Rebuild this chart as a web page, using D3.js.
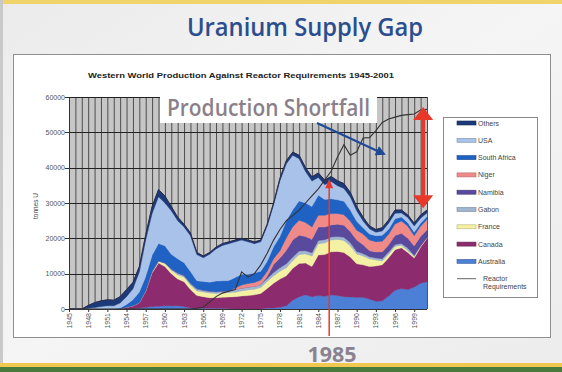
<!DOCTYPE html>
<html><head><meta charset="utf-8">
<script src="https://cdn.jsdelivr.net/npm/d3@7"></script>
<style>html,body{margin:0;padding:0;background:#efefef;}svg{display:block;}</style>
</head><body><svg id="c" width="562" height="372"></svg>
<script>
const years = [1945,1946,1947,1948,1949,1950,1951,1952,1953,1954,1955,1956,1957,1958,1959,1960,1961,1962,1963,1964,1965,1966,1967,1968,1969,1970,1971,1972,1973,1974,1975,1976,1977,1978,1979,1980,1981,1982,1983,1984,1985,1986,1987,1988,1989,1990,1991,1992,1993,1994,1995,1996,1997,1998,1999,2000,2001];
const australia = [0,0,0,0,0,0,0,0,0,0,100,300,500,700,800,900,900,900,700,300,200,200,200,200,200,100,0,0,0,0,0,300,300,500,900,2500,3500,4000,3500,3800,3600,4000,3800,3500,3400,3300,3300,2800,2200,2300,3700,5300,5800,5500,6200,7300,7700];
const canada = [0,0,0,0,0,0,0,0,100,500,800,1400,4500,9500,12200,11100,9100,7600,7000,5200,3600,3300,3000,3000,3100,3300,3500,3700,3800,4000,4400,5500,7000,8000,8500,9000,9400,9000,8500,11500,11800,12200,12500,12500,11300,9500,9200,9200,10000,10200,10800,11500,11500,10500,8200,10200,12300];
const france = [0,0,0,0,0,0,0,0,0,0,0,100,200,400,600,1000,1000,1200,1300,1300,1300,1300,1300,1200,1200,1250,1250,1400,1600,1600,1700,2000,2100,2200,2300,2200,2500,2600,3000,3200,3300,3300,3400,3400,3200,2800,2500,2200,1700,1100,1000,900,750,500,450,300,200];
const gabon = [0,0,0,0,0,0,0,0,0,0,0,0,0,0,0,0,300,500,500,500,600,500,500,500,500,400,800,800,800,800,800,800,900,1000,1100,1000,1000,900,900,900,900,900,800,900,900,700,700,600,550,650,650,570,470,730,290,0,0];
const namibia = [0,0,0,0,0,0,0,0,0,0,0,0,0,0,0,0,0,0,0,0,0,0,0,0,0,0,0,0,0,0,0,600,2300,2700,3800,4800,4500,4000,3800,3800,3600,3400,3500,3400,3100,3200,2500,1700,1700,1900,2000,2500,2900,2800,2700,2700,2200];
const niger = [0,0,0,0,0,0,0,0,0,0,0,0,0,0,0,0,0,0,0,0,0,0,0,0,0,0,400,900,1000,1100,1300,1500,1600,2100,3600,3800,4200,4000,3500,3300,3300,3200,3000,3000,3000,2800,3000,3000,2900,3000,3000,3300,3500,3400,2900,2900,2900];
const southAfrica = [0,0,0,0,0,0,0,100,200,800,1700,3000,4000,4600,4950,4900,4200,4000,3600,3300,2300,2500,2600,3000,3000,3000,3000,3000,2600,2700,2500,2800,3400,4000,4800,4800,5500,5500,5800,5700,4500,4200,3900,3800,3100,2500,1800,1700,1700,1700,1400,1500,1100,1000,1000,900,900];
const usa = [0,0,0,200,400,700,900,800,1400,2200,3100,5700,10300,11800,13250,12100,12300,10800,10100,10100,7400,6700,7900,9100,10000,10450,10050,9700,9200,8300,8300,10000,11800,15800,16100,15400,11900,8900,7200,5000,4200,4900,4000,3600,3700,3000,1900,1500,950,1250,1750,1530,1180,1470,1760,1400,1000];
const others = [0,0,0,800,1400,1600,1700,1600,1800,2000,1800,1500,1500,2000,2000,2000,1200,1000,800,800,600,500,500,500,500,500,500,500,500,500,500,500,600,700,900,900,1000,1100,1200,1300,1300,1400,1400,1400,1300,1200,1100,800,800,900,900,900,800,700,800,900,800];
const reactor = [0,0,0,0,0,0,0,0,0,0,0,0,0,0,0,0,0,0,0,0,200,500,2000,3500,4500,5000,5500,10500,9000,10000,12500,15800,19500,22500,25000,26500,28000,30000,32000,34000,36500,39000,43000,46500,43500,44500,48400,48500,50500,52800,53800,54300,54800,55000,55200,56300,56500];
const yTicks = [0,10000,20000,30000,40000,50000,60000];
const xTickLabels = ["1945","1948","1951","1954","1957","1960","1963","1966","1969","1972","1975","1978","1981","1984","1987","1990","1993","1996","1999"];
const seriesNames = ["Australia","Canada","France","Gabon","Namibia","Niger","South Africa","USA","Others"];
const seriesColors = ["#4c7fd6","#8c2b6d","#f5f1a4","#9fb5d0","#5a4a9e","#f08a88","#1f62c4","#a9c2ea","#1c3a7a"];
const legendNames = ["Others","USA","South Africa","Niger","Namibia","Gabon","France","Canada","Australia"];

(function(){
const seriesValues = [australia,canada,france,gabon,namibia,niger,southAfrica,usa,others];
const rows = years.map((yr,i)=>{const r={year:yr};seriesNames.forEach((n,k)=>r[n]=seriesValues[k][i]);return r;});
const colorOf = d3.scaleOrdinal().domain(seriesNames).range(seriesColors);

const svg = d3.select("#c");
const defs = svg.append("defs");
const g1 = defs.append("linearGradient").attr("id","bg").attr("x1",0).attr("y1",0).attr("x2",1).attr("y2",1);
g1.append("stop").attr("offset","0%").attr("stop-color","#ebebeb");
g1.append("stop").attr("offset","50%").attr("stop-color","#f5f5f5");
g1.append("stop").attr("offset","100%").attr("stop-color","#ececec");
svg.append("rect").attr("width",562).attr("height",372).attr("fill","url(#bg)");
svg.append("rect").attr("x",0).attr("y",0).attr("width",562).attr("height",4).attr("fill","#f0d46a");
svg.append("rect").attr("x",0).attr("y",0).attr("width",3).attr("height",365).attr("fill","#c9c9c9");
svg.append("rect").attr("x",0).attr("y",363).attr("width",562).attr("height",4).attr("fill","#f0c850");
svg.append("rect").attr("x",0).attr("y",367).attr("width",562).attr("height",5).attr("fill","#4a7a3c");

svg.append("text").attr("x",305).attr("y",36).attr("text-anchor","middle")
  .attr("font-family","Open Sans").attr("font-weight",600).attr("font-size",25)
  .attr("fill","#2c4d8e").attr("textLength",236).attr("lengthAdjust","spacingAndGlyphs")
  .text("Uranium Supply Gap");

svg.append("rect").attr("x",13.5).attr("y",54.5).attr("width",537).attr("height",283)
  .attr("fill","#ffffff").attr("stroke","#8f8f8f").attr("stroke-width",1);

svg.append("text").attr("x",88).attr("y",78).attr("font-family","Liberation Sans, Arial").attr("font-weight",700)
  .attr("font-size",8).attr("fill","#222").attr("textLength",306).attr("lengthAdjust","spacingAndGlyphs")
  .text("Western World Production Against Reactor Requirements 1945-2001");

const L=69,R=427,T=97,B=309;
const x = d3.scaleLinear().domain([1945,2001]).range([L,R]);
const y = d3.scaleLinear().domain([0,60000]).range([B,T]);

svg.append("rect").attr("x",L).attr("y",T).attr("width",R-L).attr("height",B-T).attr("fill","#c6c6c6");
svg.append("g").selectAll("line").data(years).join("line")
  .attr("x1",d=>x(d)+0.5).attr("x2",d=>x(d)+0.5).attr("y1",T).attr("y2",B)
  .attr("stroke","#4d4d4d").attr("stroke-width",1);
svg.append("g").selectAll("line").data(yTicks).join("line")
  .attr("x1",L).attr("x2",R).attr("y1",d=>Math.round(y(d))+0.5).attr("y2",d=>Math.round(y(d))+0.5)
  .attr("stroke","#222").attr("stroke-width",1);

const stack = d3.stack().keys(seriesNames);
const layers = stack(rows);
const area = d3.area().x(d=>x(d.data.year)).y0(d=>y(d[0])).y1(d=>y(d[1]));
svg.append("g").selectAll("path").data(layers).join("path")
  .attr("d",area).attr("fill",d=>colorOf(d.key)).attr("stroke",d=>colorOf(d.key)).attr("stroke-width",0.4);
const topLayer = layers[layers.length-1];
svg.append("path").datum(topLayer).attr("fill","none").attr("stroke","#2a2a4a").attr("stroke-width",1)
  .attr("d",d3.line().x(d=>x(d.data.year)).y(d=>y(d[1])));

svg.append("path").datum(years.map((yr,i)=>[yr,reactor[i]])).attr("fill","none")
  .attr("stroke","#333").attr("stroke-width",1.1)
  .attr("d",d3.line().x(d=>x(d[0])).y(d=>y(d[1])));

svg.append("line").attr("x1",L).attr("x2",R).attr("y1",B+0.5).attr("y2",B+0.5).attr("stroke","#333");
svg.append("line").attr("x1",L+0.5).attr("x2",L+0.5).attr("y1",T).attr("y2",B).attr("stroke","#333");
svg.append("g").selectAll("line").data(yTicks).join("line")
  .attr("x1",L-4).attr("x2",L).attr("y1",d=>Math.round(y(d))+0.5).attr("y2",d=>Math.round(y(d))+0.5).attr("stroke","#333");
svg.append("g").selectAll("text").data(yTicks).join("text")
  .attr("x",L-4).attr("y",d=>y(d)+2.5).attr("text-anchor","end")
  .attr("font-family","Liberation Sans, Arial").attr("font-size",7).attr("fill","#555").text(d=>d);
svg.append("g").selectAll("line").data(xTickLabels).join("line")
  .attr("x1",d=>x(+d)+0.5).attr("x2",d=>x(+d)+0.5).attr("y1",B).attr("y2",B+3).attr("stroke","#333");
svg.append("g").selectAll("text").data(xTickLabels).join("text")
  .attr("transform",d=>`translate(${x(+d)+2.5},${B+4}) rotate(-90)`).attr("text-anchor","end")
  .attr("font-family","Liberation Sans, Arial").attr("font-size",7).attr("fill","#555").text(d=>d);
svg.append("text").attr("transform","translate(38,206) rotate(-90)").attr("text-anchor","middle")
  .attr("font-family","Liberation Sans, Arial").attr("font-size",6.5).attr("fill","#444").text("tonnes U");

svg.append("rect").attr("x",160).attr("y",93).attr("width",217).attr("height",30).attr("fill","#ffffff");
svg.append("text").attr("x",167).attr("y",116).attr("font-family","Open Sans").attr("font-weight",600)
  .attr("font-size",23).attr("fill","#8b7f8b").attr("textLength",203).attr("lengthAdjust","spacingAndGlyphs")
  .text("Production Shortfall");

defs.append("marker").attr("id","ba").attr("viewBox","0 0 10 10").attr("refX",8).attr("refY",5)
  .attr("markerWidth",5).attr("markerHeight",5).attr("orient","auto")
  .append("path").attr("d","M0,0L10,5L0,10z").attr("fill","#1f4a98");
svg.append("line").attr("x1",317).attr("y1",123).attr("x2",384).attr("y2",154)
  .attr("stroke","#1f4a98").attr("stroke-width",2).attr("marker-end","url(#ba)");

const xr = x(1985.7);
svg.append("line").attr("x1",xr).attr("x2",xr).attr("y1",y(35000)).attr("y2",336).attr("stroke","#e8382c").attr("stroke-width",1.5);
svg.append("path").attr("d",`M${xr},${y(36800)}L${xr-4},${y(34200)}L${xr+4},${y(34200)}Z`).attr("fill","#e8382c");
svg.append("text").attr("x",332).attr("y",362).attr("text-anchor","middle").attr("font-family","Open Sans")
  .attr("font-weight",700).attr("font-size",21).attr("fill","#8b8290").attr("textLength",49)
  .attr("lengthAdjust","spacingAndGlyphs").text("1985");

const xd = x(2000.4), yTop = y(57200), yBot = y(28500);
svg.append("line").attr("x1",xd).attr("x2",xd).attr("y1",yTop+10).attr("y2",yBot-10).attr("stroke","#e8382c").attr("stroke-width",4);
svg.append("path").attr("d",`M${xd},${yTop}L${xd-10},${yTop+13}L${xd+10},${yTop+13}Z`).attr("fill","#e8382c");
svg.append("path").attr("d",`M${xd},${yBot}L${xd-10},${yBot-13}L${xd+10},${yBot-13}Z`).attr("fill","#e8382c");

svg.append("rect").attr("x",443.5).attr("y",117.5).attr("width",94).attr("height",180)
  .attr("fill","#fff").attr("stroke","#8a8a8a");
const leg = svg.append("g").selectAll("g").data(legendNames).join("g")
  .attr("transform",(d,i)=>`translate(457,${123+i*17.3})`);
leg.append("rect").attr("x",0).attr("y",-2).attr("width",19).attr("height",4)
  .attr("fill",d=>colorOf(d)).attr("stroke",d=>d3.color(colorOf(d)).darker(0.8)).attr("stroke-width",0.6);
leg.append("text").attr("x",21).attr("y",2.5).attr("font-family","Liberation Sans, Arial").attr("font-size",7)
  .attr("fill","#444").text(d=>d);
const ry = 123+9*17.3;
svg.append("line").attr("x1",457).attr("x2",476).attr("y1",ry).attr("y2",ry).attr("stroke","#666").attr("stroke-width",1);
svg.append("text").attr("x",483).attr("y",ry+2.5).attr("font-family","Liberation Sans, Arial").attr("font-size",7).attr("fill","#444").text("Reactor");
svg.append("text").attr("x",483).attr("y",ry+10.5).attr("font-family","Liberation Sans, Arial").attr("font-size",7).attr("fill","#444").text("Requirements");
})();
</script></body></html>
